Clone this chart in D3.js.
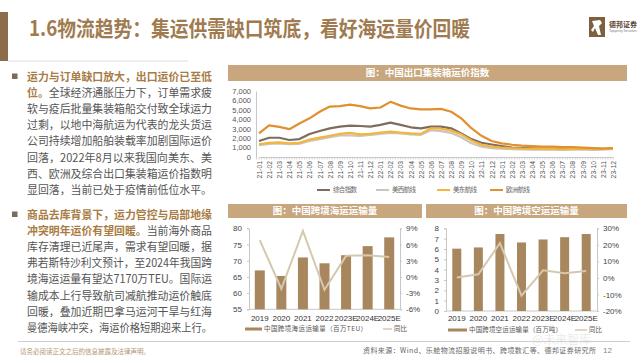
<!DOCTYPE html>
<html><head><meta charset="utf-8">
<script src="https://cdn.jsdelivr.net/npm/d3@7"></script>
<style>
body{margin:0;background:#fff;}
svg{display:block;}
text{font-family:"Liberation Sans",Arial,sans-serif;}
.cjk{font-family:"Noto Sans CJK SC","Noto Sans",sans-serif;}
</style>
</head><body>
<svg id="c" width="640" height="360"></svg>
<script>
// ---------- DATA ----------
const months = ["21-01","21-02","21-03","21-04","21-05","21-06","21-07","21-08","21-09","21-10","21-11","21-12",
                "22-01","22-02","22-03","22-04","22-05","22-06","22-07","22-08","22-09","22-10","22-11","22-12",
                "23-01","23-02","23-03","23-04","23-05","23-06","23-07","23-08","23-09","23-10","23-11","23-12"];
const composite = [1700,2040,2040,1800,1900,2440,2760,3040,3220,3330,3290,3220,3400,3650,3400,3150,3040,3220,3220,3040,2500,1900,1510,1330,1150,1000,950,920,900,880,870,900,950,900,860,900];
const usWest    = [1250,1400,1450,1350,1400,1700,1900,2100,2300,2300,2250,2350,2450,2550,2500,2400,2350,2850,2750,2550,2100,1450,1100,950,880,830,800,790,780,770,760,780,800,760,780,850];
const usEast    = [1350,1500,1550,1450,1500,1850,2050,2250,2450,2550,2400,2450,2600,2700,2600,2500,2450,3050,3000,2800,2400,1750,1300,1100,1000,930,880,870,860,840,820,850,870,830,850,920];
const europe    = [2500,3350,3200,2950,3550,4100,4800,5350,5400,5550,5400,5150,5250,5850,5450,5150,5050,5050,5100,4800,4100,3050,2250,1700,1450,1300,1200,1150,1100,1100,1050,1050,1000,950,900,950];
const seriesNames = ["综合指数","美西航线","美东航线","欧洲航线"];
const indexTicks = [0,1000,2000,3000,4000,5000,6000,7000];

const years = ["2019","2020","2021","2022","2023E","2024E","2025E"];
const seaVolume = [67.0,65.3,71.0,69.2,71.7,74.5,77.2];
const seaYoY    = [6.8,-2.2,8.5,-2.4,3.9,4.0,3.7];
const seaLeftTicks  = [55,60,65,70,75,80];
const seaRightTicks = [-6,-3,0,3,6,9];

const airVolume = [6.03,6.15,7.45,6.63,6.92,7.14,7.45];
const airYoY    = [0.2,2.2,21.0,-10.7,4.6,2.8,4.2];
const airLeftTicks  = [0,1,2,3,4,5,6,7,8];
const airRightTicks = [-20,-10,0,10,20,30];

const titleText = "1.6物流趋势：集运供需缺口筑底，看好海运量价回暖";
const bullet1 = [
  [["运力与订单缺口放大，出口运价已至低",1]],
  [["位。",1],["全球经济通胀压力下，订单需求疲",0]],
  [["软与疫后批量集装箱船交付致全球运力",0]],
  [["过剩，以地中海航运为代表的龙头货运",0]],
  [["公司持续增加船舶装载率加剧国际运价",0]],
  [["回落，2022年8月以来我国向美东、美",0]],
  [["西、欧洲及综合出口集装箱运价指数明",0]],
  [["显回落，当前已处于疫情前低位水平。",0]]
];
const bullet2 = [
  [["商品去库背景下，运力管控与局部地缘",1]],
  [["冲突明年运价有望回暖。",1],["当前海外商品",0]],
  [["库存清理已近尾声，需求有望回暖，据",0]],
  [["弗若斯特沙利文预计，至2024年我国跨",0]],
  [["境海运运量有望达7170万TEU。国际运",0]],
  [["输成本上行导致航司减航推动运价触底",0]],
  [["回暖，叠加近期巴拿马运河干旱与红海",0]],
  [["曼德海峡冲突，海运价格短期迎来上行。",0]]
];

// ---------- STYLE ----------
const TAN = "#C8A77F", BROWN = "#8C6C49", TITLE = "#A07B50";
const BOLD = "#A87C45", BODY = "#555555";
const lineColors = ["#7F6C5C","#CBC5BC","#F2B640","#E1902F"];
const BAR = "#A8875E", YOY = "#D6C8B0", AXIS = "#C8C8C8";

const svg = d3.select("#c");
svg.append("rect").attr("width",640).attr("height",360).attr("fill","#fff");

// ---------- HEADER ----------
svg.append("rect").attr("x",0).attr("y",12).attr("width",8).attr("height",49).attr("fill",BROWN);
svg.append("text").attr("class","cjk").attr("x",29).attr("y",28).attr("dy","0.36em")
  .attr("font-size",21).attr("font-weight",700).attr("fill",TITLE)
  .attr("textLength",441).attr("lengthAdjust","spacingAndGlyphs").text(titleText);
svg.append("line").attr("x1",8).attr("x2",188).attr("y1",61).attr("y2",61).attr("stroke","#ddd").attr("stroke-width",1);

// logo
const logo = svg.append("g");
logo.append("rect").attr("x",589).attr("y",17).attr("width",16).attr("height",20).attr("fill","#7E5F3E");
logo.append("path").attr("d","M592,21 L600,20 L602,23 L599,26 L601,35 L598,35 L595,28 L593,32 L591,30 L594,26 Z").attr("fill","#fff");
logo.append("text").attr("class","cjk").attr("x",609).attr("y",24).attr("dy","0.36em").attr("font-size",7).attr("font-weight",700).attr("fill","#5B4632").text("德邦证券");
logo.append("text").attr("x",609).attr("y",30.5).attr("dy","0.36em").attr("font-size",3).attr("fill","#777").text("Topsperity Securities");

// ---------- LEFT TEXT ----------
function drawPara(lines, y0, step){
  svg.append("rect").attr("x",12).attr("y",y0-3).attr("width",5.5).attr("height",5.5).attr("fill","#7A6C5F");
  lines.forEach((segs,i)=>{
    const t = svg.append("text").attr("class","cjk").attr("x",27).attr("y",y0+i*step).attr("dy","0.36em")
      .attr("font-size",11.2).attr("textLength",185).attr("lengthAdjust","spacingAndGlyphs");
    segs.forEach(s=>{
      t.append("tspan").attr("fill",s[1]?BOLD:BODY).attr("font-weight",s[1]?700:400).text(s[0]);
    });
  });
}
drawPara(bullet1, 76.5, 16.2);
drawPara(bullet2, 214.5, 16.2);

// ---------- PANEL HEADERS ----------
function panelHeader(x,y,w,h,label){
  svg.append("rect").attr("x",x).attr("y",y).attr("width",w).attr("height",h).attr("fill",TAN);
  svg.append("text").attr("class","cjk").attr("x",x+w/2).attr("y",y+h/2).attr("dy","0.36em")
    .attr("text-anchor","middle").attr("font-size",9.5).attr("font-weight",700).attr("fill","#fff").text(label);
}
panelHeader(228,65,399,16,"图：中国出口集装箱运价指数");
panelHeader(228,204,194,14,"图：中国跨境海运运输量");
panelHeader(426,204,201,14,"图：中国跨境空运运输量");

// ---------- LINE CHART ----------
const xL = d3.scalePoint(months,[259,613]);
const yL = d3.scaleLinear([0,7000],[157,91]);
const gl = svg.append("g");
const ya = gl.append("g").attr("transform","translate(256,0)")
  .call(d3.axisLeft(yL).tickValues(indexTicks).tickSize(0).tickPadding(5));
ya.select(".domain").attr("stroke",AXIS);
ya.selectAll("text").attr("font-size",7.5).attr("fill","#555");
const xi = d3.scaleLinear([0,months.length-1],[259,613]);
gl.append("g").selectAll("line").data(d3.range(-0.25,months.length-0.99,0.25)).join("line")
  .attr("x1",d=>xi(d)).attr("x2",d=>xi(d)).attr("y1",157).attr("y2",159.5).attr("stroke","#bbb").attr("stroke-width",0.6);
const xa = gl.append("g").attr("transform","translate(0,157)")
  .call(d3.axisBottom(xL).tickSize(0));
xa.select(".domain").attr("stroke",AXIS);
xa.selectAll("text").attr("font-size",6.8).attr("fill","#555")
  .attr("transform","rotate(-90)").attr("x",-4).attr("y",0).attr("dy","0.35em").style("text-anchor","end");

const seriesData = [composite,usWest,usEast,europe];
const lineGen = d3.line().x((d,i)=>xL(months[i])).y(d=>yL(d));
seriesData.forEach((s,k)=>{
  gl.append("path").datum(s).attr("d",lineGen).attr("fill","none")
    .attr("stroke",lineColors[k]).attr("stroke-width",2.2).attr("stroke-linejoin","round");
});
const legX = [317,376,437,490];
seriesNames.forEach((n,k)=>{
  gl.append("line").attr("x1",legX[k]).attr("x2",legX[k]+13).attr("y1",190).attr("y2",190)
    .attr("stroke",lineColors[k]).attr("stroke-width",2);
  gl.append("text").attr("class","cjk").attr("x",legX[k]+16).attr("y",190).attr("dy","0.36em")
    .attr("font-size",6.5).attr("fill","#666").attr("textLength",24).text(n);
});

// ---------- BAR + LINE CHARTS ----------
function comboChart(opt){
  const g = svg.append("g");
  const x = d3.scalePoint(years,[opt.x0,opt.x1]).padding(0.5);
  const y = d3.scaleLinear(opt.lDom,[opt.yb,opt.yt]);
  const y2 = d3.scaleLinear(opt.rDom,[opt.yb,opt.yt]);
  const la = g.append("g").attr("transform",`translate(${opt.x0},0)`)
    .call(d3.axisLeft(y).tickValues(opt.lTicks).tickSize(2).tickPadding(5));
  la.selectAll("text").attr("font-size",8).attr("fill","#444");
  la.selectAll("line,.domain").attr("stroke",AXIS);
  const ra = g.append("g").attr("transform",`translate(${opt.x1},0)`)
    .call(d3.axisRight(y2).tickValues(opt.rTicks).tickSize(2).tickPadding(4).tickFormat(d=>d+"%"));
  ra.selectAll("text").attr("font-size",8).attr("fill","#444");
  ra.selectAll("line,.domain").attr("stroke",AXIS);
  g.append("line").attr("x1",opt.x0).attr("x2",opt.x1).attr("y1",opt.yb).attr("y2",opt.yb).attr("stroke",AXIS);
  g.selectAll("rect.bar").data(opt.vals).join("rect").attr("class","bar")
    .attr("x",(d,i)=>x(years[i])-opt.bw/2).attr("width",opt.bw)
    .attr("y",d=>y(d)).attr("height",d=>opt.yb-y(d)).attr("fill",BAR);
  g.append("path").datum(opt.yoy).attr("fill","none").attr("stroke",YOY).attr("stroke-width",2)
    .attr("d",d3.line().x((d,i)=>x(years[i])).y(d=>y2(d)));
  g.selectAll("text.xl").data(years).join("text").attr("class","xl")
    .attr("x",d=>x(d)).attr("y",opt.xly).attr("dy","0.36em").attr("text-anchor","middle")
    .attr("font-size",8).attr("fill","#333").text(d=>d);
  g.append("rect").attr("x",opt.lg[0]).attr("y",opt.lgy-1.5).attr("width",opt.lg[1]-opt.lg[0]).attr("height",3).attr("fill",BAR);
  g.append("text").attr("class","cjk").attr("x",opt.lg[1]+2).attr("y",opt.lgy).attr("dy","0.36em")
    .attr("font-size",6.5).attr("fill","#555").attr("textLength",opt.lg[2]).attr("lengthAdjust","spacing").text(opt.lgText);
  g.append("line").attr("x1",opt.ll[0]).attr("x2",opt.ll[1]).attr("y1",opt.lgy).attr("y2",opt.lgy).attr("stroke",YOY).attr("stroke-width",1.5);
  g.append("text").attr("class","cjk").attr("x",opt.ll[1]+2).attr("y",opt.lgy).attr("dy","0.36em")
    .attr("font-size",6.5).attr("fill","#555").text("同比");
}
comboChart({x0:249,x1:400,yb:309.3,yt:228.3,lDom:[55,80],rDom:[-6,9],lTicks:seaLeftTicks,rTicks:seaRightTicks,
  vals:seaVolume,yoy:seaYoY,bw:10,xly:318,lgy:329,lg:[245,262,103],ll:[383,392],lgText:"中国跨境海运运输量（百万TEU）"});
comboChart({x0:446,x1:597,yb:311,yt:228.3,lDom:[0,8],rDom:[-20,30],lTicks:airLeftTicks,rTicks:airRightTicks,
  vals:airVolume,yoy:airYoY,bw:9,xly:318.5,lgy:330,lg:[448,467,93],ll:[575,587],lgText:"中国跨境空运运输量（百万吨）"});

// ---------- FOOTER ----------
svg.append("line").attr("x1",18).attr("x2",630).attr("y1",341.5).attr("y2",341.5).attr("stroke","#cfcfcf").attr("stroke-width",1.2);
svg.append("text").attr("class","cjk").attr("x",20).attr("y",352).attr("dy","0.36em").attr("font-size",6.5)
  .attr("fill","#B39670").text("请务必阅读正文之后的信息披露及法律声明。");
svg.append("text").attr("class","cjk").attr("x",363).attr("y",350.5).attr("dy","0.36em").attr("font-size",7)
  .attr("fill","#666").attr("textLength",233).text("资料来源：Wind、乐舱物流招股说明书、跨境数汇等、德邦证券研究所");
svg.append("text").attr("x",603).attr("y",350.5).attr("dy","0.36em").attr("font-size",8).attr("fill","#888").text("12");
svg.append("text").attr("class","cjk").attr("x",532).attr("y",344).attr("font-size",12).attr("fill","#d8d8d8").attr("opacity",0.5).text("@未来智库");
</script>
</body></html>
